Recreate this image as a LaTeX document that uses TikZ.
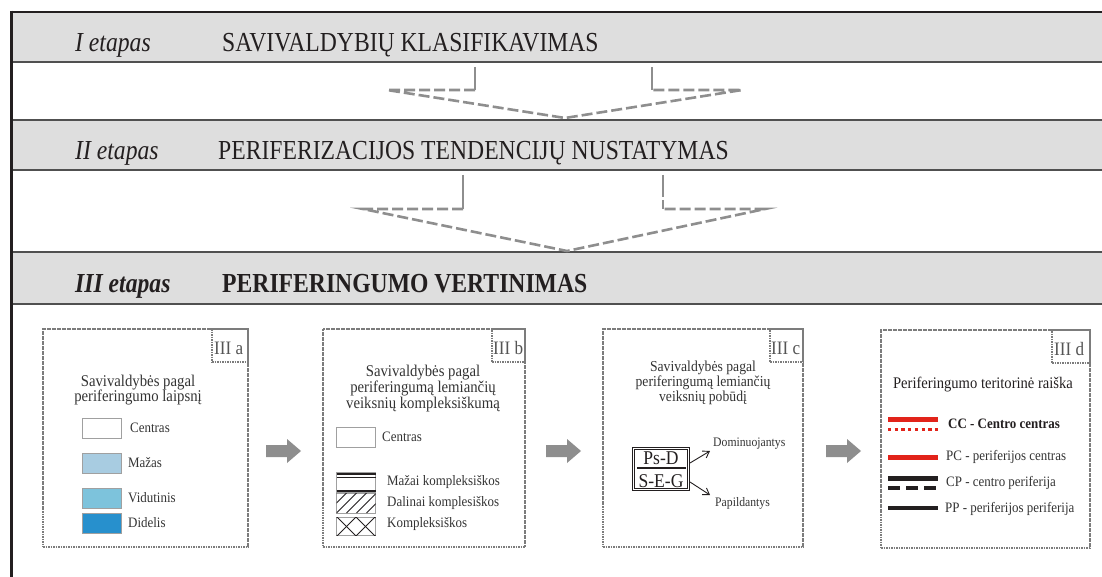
\documentclass[tikz,border=0pt]{standalone}
\usepackage{fontspec}
\setmainfont[FakeStretch=0.9]{Liberation Serif}
\newfontfamily\hdrfont[FakeStretch=0.86]{Liberation Serif}
\usetikzlibrary{arrows.meta,calc}
\definecolor{band}{HTML}{DEDEDE}
\definecolor{bandline}{HTML}{505050}
\definecolor{ink}{HTML}{231F20}
\definecolor{arrowgray}{HTML}{8E8E8E}
\definecolor{boxgray}{HTML}{7C7C7C}
\definecolor{txt}{HTML}{333333}
\definecolor{tagtxt}{HTML}{555555}
\definecolor{swgray}{HTML}{A0A0A0}
\definecolor{blueA}{HTML}{A8CCE1}
\definecolor{blueB}{HTML}{7DC3DC}
\definecolor{blueC}{HTML}{2790CD}
\definecolor{redL}{HTML}{E2231A}
\begin{document}
\begin{tikzpicture}[x=1pt,y=-1pt,
  hdr/.style={font=\hdrfont\fontsize{27.5}{30}\selectfont, text=ink, inner sep=0pt, anchor=base west},
  dasharr/.style={draw=arrowgray, line width=2.6pt, dash pattern=on 11pt off 4pt, line join=miter},
  solidarr/.style={draw=arrowgray, line width=2.6pt},
  panel/.style={draw=boxgray, line width=1.3pt, dash pattern=on 1.6pt off 0.9pt, inner sep=0pt, outer sep=0pt},
  tagtext/.style={font=\fontsize{19}{20}\selectfont, text=tagtxt, inner sep=0pt, anchor=base west},
  ptitle/.style={font=\fontsize{16.4}{15.8}\selectfont, text=txt, align=center, inner sep=0pt},
  ctitle/.style={font=\fontsize{15.2}{14.8}\selectfont, text=txt, align=center, inner sep=0pt},
  lbl/.style={font=\fontsize{14.4}{15}\selectfont, text=txt, inner sep=0pt, anchor=west},
  slbl/.style={font=\fontsize{13}{14}\selectfont, text=txt, inner sep=0pt, anchor=west},
  swatch/.style={draw=swgray, line width=0.8pt, minimum width=39pt, minimum height=20pt, inner sep=0pt, outer sep=0pt},
  blockarr/.pic={\fill[arrowgray] (0,-6) -- (21,-6) -- (21,-12) -- (35,0) -- (21,12) -- (21,6) -- (0,6) -- cycle;},
  thinarr/.style={draw=ink, line width=0.9pt, -{Straight Barb[length=6pt,width=8pt]}},
]
\useasboundingbox (0,0) rectangle (1102,577);

% bands
\fill[band] (11,12) rectangle (1102,62);
\fill[band] (11,120) rectangle (1102,170);
\fill[band] (11,252) rectangle (1102,304);
\draw[ink,line width=2.6pt] (11,12) -- (1102,12);
\foreach \yy in {62,120,170,252,304}{\draw[bandline,line width=2pt] (11,\yy) -- (1102,\yy);}
\draw[ink,line width=3pt] (11,10.7) -- (11,577);

% headers
\node[hdr] (e1) at (75,52) {\itshape I etapas};
\node[hdr] (t1) at (222,52) {SAVIVALDYBIŲ KLASIFIKAVIMAS};
\node[hdr] (e2) at (75,160) {\itshape II etapas};
\node[hdr] (t2) at (218,160) {PERIFERIZACIJOS TENDENCIJŲ NUSTATYMAS};
\node[hdr] (e3) at (75,292) {\bfseries\itshape III etapas};
\node[hdr] (t3) at (222,292) {\bfseries PERIFERINGUMO VERTINIMAS};

% dashed chevrons 1
\coordinate (a1) at (475,67); \coordinate (a2) at (475,90); \coordinate (a3) at (387,90);
\coordinate (a4) at (565,118); \coordinate (a5) at (742,90); \coordinate (a6) at (652,90); \coordinate (a7) at (652,67);
\draw[solidarr] (a1) -- (a2);
\draw[solidarr] (a7) -- (a6);
\draw[dasharr] (a2) -- (a3) -- (a4) -- (a5) -- (a6);
% dashed chevrons 2
\coordinate (b1) at (463,175); \coordinate (b2) at (463,209); \coordinate (b3) at (363,209);
\coordinate (b4) at (567,251); \coordinate (b5) at (765,209); \coordinate (b6) at (663,209); \coordinate (b7) at (663,175);
\draw[solidarr] (b1) -- (b2);
\draw[solidarr,dash pattern=on 22pt off 3pt] (b7) -- (b6);
\draw[dasharr] (b2) -- (b3) -- (b4) -- (b5) -- (b6);

% panels
\node[panel, anchor=north west, minimum width=205pt, minimum height=218pt] (pa) at (43,329) {};
\node[panel, anchor=north west, minimum width=202pt, minimum height=218pt] (pb) at (323,329) {};
\node[panel, anchor=north west, minimum width=200pt, minimum height=218pt] (pc) at (603,329) {};
\node[panel, anchor=north west, minimum width=209pt, minimum height=218pt] (pd) at (881,330) {};

% tags
\node[panel, anchor=north east, minimum width=36pt, minimum height=33pt] (ga) at (pa.north east) {};
\node[panel, anchor=north east, minimum width=33pt, minimum height=33pt] (gb) at (pb.north east) {};
\node[panel, anchor=north east, minimum width=33pt, minimum height=33pt] (gc) at (pc.north east) {};
\node[panel, anchor=north east, minimum width=38pt, minimum height=33pt] (gd) at (pd.north east) {};
\begin{scope}\clip (ga.south west) rectangle (ga.north east); \node[tagtext] (xa) at (214,354) {III a};\end{scope}
\begin{scope}\clip (gb.south west) rectangle (gb.north east); \node[tagtext] (xb) at (493,354) {III b};\end{scope}
\begin{scope}\clip (gc.south west) rectangle (gc.north east); \node[tagtext] (xc) at (771,354) {III c};\end{scope}
\begin{scope}\clip (gd.south west) rectangle (gd.north east); \node[tagtext] (xd) at (1054,355) {III d};\end{scope}

% block arrows
\pic at (266,451) {blockarr};
\pic at (546,451) {blockarr};
\pic at (826,451) {blockarr};

% panel a
\node[ptitle] (tta) at (138,390) {Savivaldybės pagal\\periferingumo laipsnį};
\node[swatch, fill=white] (sa1) at (101.5,428) {};
\node[swatch, fill=blueA] (sa2) at (101.5,463.5) {};
\node[swatch, fill=blueB] (sa3) at (101.5,498) {};
\node[swatch, fill=blueC] (sa4) at (101.5,523) {};
\node[lbl] (la1) at (130,428) {Centras};
\node[lbl] (la2) at (128,463) {Mažas};
\node[lbl] (la3) at (128,498) {Vidutinis};
\node[lbl] (la4) at (128,523) {Didelis};

% panel b
\node[ptitle] (ttb) at (423,388.5) {Savivaldybės pagal\\periferingumą lemiančių\\veiksnių kompleksiškumą};
\node[swatch, fill=white] (sb1) at (356,437.5) {};
\node[swatch, fill=white] (sb2) at (356,482) {};
\draw[ink,line width=1.7pt] (sb2.north west) ++(0,2.2) -- ++(39,0);
\draw[ink,line width=1.1pt] (sb2.north west) ++(0,5.5) -- ++(39,0);
\draw[ink,line width=1.1pt] (sb2.south west) ++(0,-1) -- ++(39,0);
\node[swatch, fill=white] (sb3) at (356,503) {};
\begin{scope}\clip (sb3.south west) rectangle (sb3.north east);
\foreach \k in {-20,-10,0,10,20,30,40}{\draw[ink,line width=1pt] (336.5+\k,513) -- (356.5+\k,493);}
\end{scope}
\node[swatch, fill=white, minimum height=18pt] (sb4) at (356,526) {};
\begin{scope}\clip (sb4.south west) rectangle (sb4.north east);
\foreach \k in {-19,0,19,38}{\draw[ink,line width=1pt] (337+\k,517) -- (356+\k,536); \draw[ink,line width=1pt] (337+\k,536) -- (356+\k,517);}
\end{scope}
\node[lbl] (lb1) at (382,437) {Centras};
\node[lbl] (lb2) at (387,482) {Mažai kompleksiškos};
\node[lbl] (lb3) at (387,503) {Dalinai komplesiškos};
\node[lbl] (lb4) at (387,524) {Kompleksiškos};

% panel c
\node[ctitle] (ttc) at (703,383) {Savivaldybės pagal\\periferingumą lemiančių\\veiksnių pobūdį};
\node[draw=ink, line width=1pt, double, double distance=1pt, minimum width=55pt, minimum height=41pt, inner sep=0pt] (fb) at (661,469) {};
\node[font=\fontsize{19.5}{20}\selectfont, text=ink, inner sep=0pt] (fn) at (661,458) {Ps-D};
\node[font=\fontsize{19.5}{20}\selectfont, text=ink, inner sep=0pt] (fd) at (661,481) {S-E-G};
\draw[ink,line width=1.4pt] (637,468) -- (686,468);
\node[slbl] (dom) at (713,444) {Dominuojantys};
\node[slbl] (pap) at (715,503) {Papildantys};
\coordinate (fa1) at (690,463);
\coordinate (fa2) at (690,482);
\draw[thinarr] (fa1) -- (710,451);
\draw[thinarr] (fa2) -- (710,495);

% panel d
\node[font=\fontsize{16.2}{16}\selectfont, text=ink, inner sep=0pt] (ttd) at (983,385) {Periferingumo teritorinė raiška};
\draw[redL, line width=5pt] (888,419) -- (938,419);
\draw[redL, line width=3pt, dash pattern=on 3.3pt off 3.4pt] (888,429) -- (938,429);
\draw[redL, line width=5pt] (888,457) -- (938,457);
\draw[ink, line width=5pt] (888,478) -- (938,478);
\draw[ink, line width=4pt, dash pattern=on 12pt off 6pt] (888,488) -- (938,488);
\draw[ink, line width=4pt] (888,508) -- (938,508);
\node[lbl, text=ink] (ld1) at (948,424) {\bfseries CC - Centro centras};
\node[lbl] (ld2) at (946,457) {PC - periferijos centras};
\node[lbl] (ld3) at (946,483) {CP - centro periferija};
\node[lbl] (ld4) at (945,509) {PP - periferijos periferija};
\end{tikzpicture}
\end{document}
